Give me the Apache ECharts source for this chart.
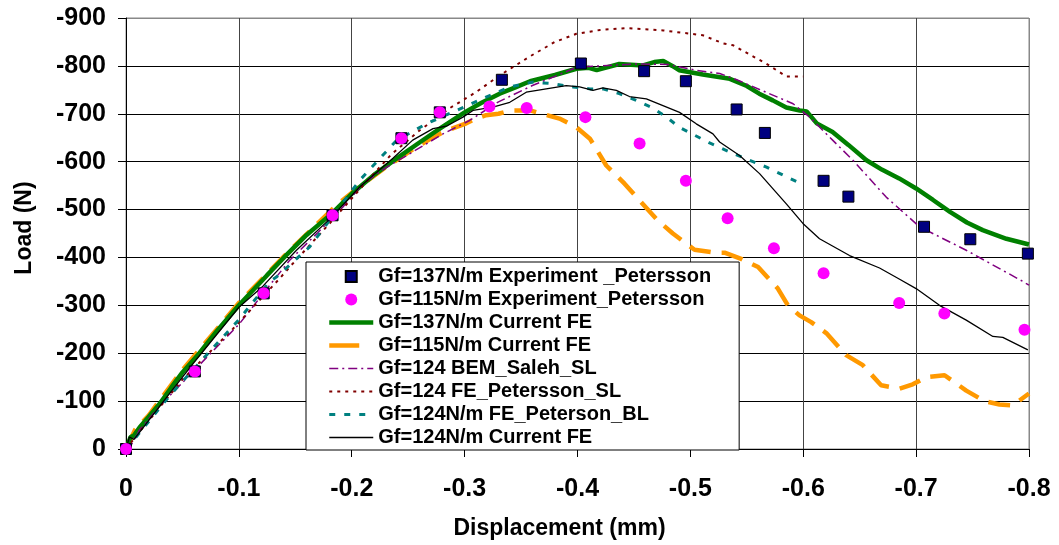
<!DOCTYPE html>
<html>
<head>
<meta charset="utf-8">
<script src="https://cdn.jsdelivr.net/npm/echarts@6/dist/echarts.min.js"></script>
<style>
html,body{margin:0;padding:0;background:#fff;}
#chart{width:1059px;height:545px;}
</style>
</head>
<body>
<div id="chart"></div>
<script>
// ---- axis ranges ----
const xRange = { min: -0.8, max: 0, step: 0.1 };
const yRange = { min: -900, max: 0, step: 100 };

// ---- series names ----
const names = [
  'Gf=137N/m Experiment _Petersson',
  'Gf=115N/m Experiment_Petersson',
  'Gf=137N/m Current FE',
  'Gf=115N/m Current FE',
  'Gf=124 BEM_Saleh_SL',
  'Gf=124 FE_Petersson_SL',
  'Gf=124N/m FE_Peterson_BL',
  'Gf=124N/m Current FE'
];

// ---- data: [displacement (mm), load (N)] ----
const exp137 = [[0,0],[-0.061,-162],[-0.122,-325],[-0.183,-488],[-0.244,-649],[-0.278,-703],[-0.333,-771],[-0.403,-805],[-0.459,-789],[-0.496,-768],[-0.541,-709],[-0.566,-660],[-0.618,-560],[-0.640,-527],[-0.707,-464],[-0.748,-438],[-0.799,-408]];

const exp115 = [[0,0],[-0.061,-162],[-0.122,-325],[-0.183,-488],[-0.244,-649],[-0.278,-703],[-0.322,-715],[-0.355,-712],[-0.407,-693],[-0.455,-638],[-0.496,-560],[-0.533,-482],[-0.574,-419],[-0.618,-367],[-0.685,-305],[-0.725,-283],[-0.796,-249]];

const fe137 = [[0,0],[-0.002,-12],[-0.004,-25],[-0.007,-28],[-0.012,-45],[-0.02,-67],[-0.03,-95],[-0.04,-128],[-0.05,-160],[-0.065,-200],[-0.08,-245],[-0.1,-300],[-0.125,-363],[-0.14,-400],[-0.16,-447],[-0.183,-493],[-0.2,-533],[-0.22,-573],[-0.243,-612],[-0.26,-640],[-0.278,-669],[-0.3,-703],[-0.315,-723],[-0.331,-742],[-0.345,-755],[-0.358,-768],[-0.38,-781],[-0.399,-794],[-0.41,-796],[-0.417,-791],[-0.437,-804],[-0.458,-801],[-0.468,-808],[-0.476,-810],[-0.484,-800],[-0.49,-791],[-0.511,-782],[-0.535,-773],[-0.55,-758],[-0.561,-742],[-0.573,-728],[-0.585,-713],[-0.597,-707],[-0.603,-705],[-0.612,-680],[-0.626,-662],[-0.64,-635],[-0.656,-603],[-0.67,-583],[-0.685,-565],[-0.7,-544],[-0.715,-520],[-0.73,-495],[-0.745,-473],[-0.759,-457],[-0.78,-439],[-0.8,-427]];

const fe115 = [[0,0],[-0.003,-15],[-0.008,-40],[-0.02,-70],[-0.05,-165],[-0.1,-305],[-0.121,-356],[-0.1435,-411],[-0.165,-460],[-0.186,-508],[-0.207,-548],[-0.228,-585],[-0.257,-630],[-0.27,-648],[-0.278,-658],[-0.29,-670],[-0.3015,-680],[-0.31,-690],[-0.319,-697],[-0.33,-700],[-0.341,-707],[-0.358,-707],[-0.384,-690],[-0.399,-672],[-0.411,-648],[-0.4255,-592],[-0.4417,-554],[-0.455,-519],[-0.4712,-477],[-0.4845,-450],[-0.5037,-416],[-0.5214,-410],[-0.5303,-410],[-0.545,-397],[-0.56,-380],[-0.5775,-335],[-0.5864,-300],[-0.5967,-279],[-0.607,-265],[-0.6204,-242],[-0.638,-196],[-0.6528,-175],[-0.669,-133],[-0.6852,-126],[-0.697,-135],[-0.709,-150],[-0.7252,-154],[-0.7444,-122],[-0.7606,-100],[-0.7739,-93],[-0.7857,-91],[-0.8,-116]];

const bemSaleh = [[0,0],[-0.005,-10],[-0.012,-40],[-0.03,-90],[-0.0535,-147],[-0.075,-200],[-0.095,-248],[-0.1007,-262],[-0.125,-335],[-0.145,-394],[-0.17,-452],[-0.192,-505],[-0.21,-554],[-0.23,-587],[-0.2516,-617],[-0.2808,-658],[-0.3044,-686],[-0.33,-725],[-0.36,-759],[-0.38,-778],[-0.399,-797],[-0.42,-800],[-0.45,-804],[-0.48,-803],[-0.505,-791],[-0.526,-784],[-0.54,-772],[-0.567,-745],[-0.591,-721],[-0.6056,-693],[-0.626,-645],[-0.644,-603],[-0.6735,-526],[-0.703,-464],[-0.7444,-415],[-0.7945,-350],[-0.8,-342]];

const fePeterssonSL = [[0,0],[-0.01,-30],[-0.05,-145],[-0.0948,-251],[-0.1361,-356],[-0.145,-380],[-0.18,-470],[-0.21,-550],[-0.235,-615],[-0.26,-665],[-0.287,-712],[-0.31,-745],[-0.331,-780],[-0.358,-820],[-0.38,-850],[-0.399,-867],[-0.42,-875],[-0.443,-879],[-0.476,-874],[-0.511,-864],[-0.529,-847],[-0.538,-843],[-0.553,-823],[-0.567,-805],[-0.585,-778],[-0.6,-778]];

const fePetersonBL = [[0,0],[-0.01,-28],[-0.04,-115],[-0.0712,-196],[-0.1,-270],[-0.1273,-350],[-0.1332,-359],[-0.1627,-422],[-0.1716,-450],[-0.207,-561],[-0.2395,-644],[-0.266,-679],[-0.29,-704],[-0.319,-735],[-0.34,-756],[-0.36,-766],[-0.378,-763],[-0.396,-756],[-0.411,-752],[-0.4225,-752],[-0.437,-742],[-0.452,-728],[-0.466,-713],[-0.479,-693],[-0.49,-672],[-0.504,-655],[-0.517,-639],[-0.538,-617],[-0.567,-589],[-0.598,-554]];

const fe124 = [[0,0],[-0.003,-25],[-0.007,-20],[-0.012,-35],[-0.0387,-116],[-0.0593,-178],[-0.1,-296],[-0.1213,-340],[-0.151,-415],[-0.1804,-480],[-0.207,-547],[-0.2365,-607],[-0.254,-645],[-0.272,-669],[-0.2838,-674],[-0.2985,-693],[-0.3074,-707],[-0.325,-714],[-0.34,-724],[-0.3546,-745],[-0.3723,-752],[-0.39,-759],[-0.4019,-756],[-0.4137,-749],[-0.4225,-754],[-0.4344,-749],[-0.446,-736],[-0.461,-731],[-0.4757,-717],[-0.4904,-703],[-0.5052,-679],[-0.52,-658],[-0.5259,-641],[-0.5436,-613],[-0.5613,-575],[-0.585,-512],[-0.5997,-471],[-0.6144,-439],[-0.641,-404],[-0.6676,-378],[-0.685,-355],[-0.7,-335],[-0.7207,-300],[-0.7444,-269],[-0.768,-235],[-0.7768,-233],[-0.799,-207]];

const FONT = "'Liberation Sans', Arial, sans-serif";

function fmtX(v){ return Math.abs(v) < 1e-9 ? '0' : String(Math.round(v*10)/10); }
function fmtY(v){ return Math.abs(v) < 1e-9 ? '0' : String(Math.round(v)); }

const hColors = ['#888'].concat(Array(9).fill('#000'));
const vColors = ['#888'].concat(Array(8).fill('#444'));

// line styles per series (index 2..7)
const styles = [
  null, null,
  {color:'#008000', width:4.5, type:'solid', legendType:'solid'},
  {color:'#FF9900', width:4.5, type:[22,11], legendType:[30,14]},
  {color:'#800080', width:1.5, type:[9,4,2,4], legendType:[9,4,2,4]},
  {color:'#800000', width:2, type:[3,5], legendType:[3,5]},
  {color:'#008080', width:3, type:[6,9], legendType:[6,9]},
  {color:'#000000', width:1.3, type:'solid', legendType:'solid'}
];

// legend icons: centred square inside the 44x12 legend slot; line items hide the marker
const squareIcon = 'path://M0,0M44,12M16.5,0.5H27.5V11.5H16.5Z';
const legendData = names.map((n, i) => {
  if (i === 0) return {name:n, icon:squareIcon};
  if (i === 1) return {name:n, icon:'circle'};
  const s = styles[i];
  return {name:n, itemStyle:{opacity:0}, lineStyle:{width:s.width, type:s.legendType, color:s.color}};
});

const chart = echarts.init(document.getElementById('chart'), null, {renderer:'canvas'});

function lineSeries(i, data, z){
  const s = styles[i];
  return {
    name:names[i], type:'line', data, showSymbol:false, symbol:'none', smooth:false,
    lineStyle:{color:s.color, width:s.width, type:s.type}, itemStyle:{color:s.color}, z, animation:false,
    emphasis:{disabled:true}
  };
}

chart.setOption({
  animation:false,
  backgroundColor:'#fff',
  grid:{left:126, right:30, top:18, bottom:96, show:true, borderColor:'#888', borderWidth:1, containLabel:false},
  xAxis:{
    type:'value', min:xRange.min, max:xRange.max, interval:xRange.step, inverse:true,
    name:'Displacement (mm)', nameLocation:'middle', nameGap:68,
    nameTextStyle:{fontFamily:FONT, fontWeight:'bold', fontSize:23, color:'#000', padding:[0,36,0,0]},
    axisLine:{show:true, onZero:false, lineStyle:{color:'#000', width:1}},
    axisTick:{show:true, inside:false, length:8, lineStyle:{color:'#000'}},
    axisLabel:{formatter:fmtX, margin:28, fontFamily:FONT, fontWeight:'bold', fontSize:25, color:'#000'},
    splitLine:{show:true, lineStyle:{color:vColors, width:1}}
  },
  yAxis:{
    type:'value', min:yRange.min, max:yRange.max, interval:yRange.step, inverse:true,
    name:'Load (N)', nameLocation:'middle', nameGap:90, nameRotate:90,
    nameTextStyle:{fontFamily:FONT, fontWeight:'bold', fontSize:23, color:'#000', padding:[0,0,0,11]},
    axisLine:{show:true, onZero:false, lineStyle:{color:'#000', width:1}},
    axisTick:{show:true, inside:false, length:8, lineStyle:{color:'#000'}},
    axisLabel:{formatter:fmtY, margin:20, fontFamily:FONT, fontWeight:'bold', fontSize:25, color:'#000'},
    splitLine:{show:true, lineStyle:{color:hColors, width:1}}
  },
  legend:{
    show:true, orient:'vertical', left:306, top:262,
    data:legendData, selectedMode:false,
    itemWidth:44, itemHeight:12, itemGap:0,
    padding:[3,28,1,21],
    backgroundColor:'#fff', borderColor:'#000', borderWidth:1,
    textStyle:{fontFamily:FONT, fontWeight:'bold', fontSize:20, color:'#000', lineHeight:23}
  },
  series:[
    {name:names[0], type:'scatter', data:exp137, symbol:'rect', symbolSize:11, clip:false,
     itemStyle:{color:'#000080', borderColor:'#000', borderWidth:1, opacity:1}, z:6, emphasis:{disabled:true}},
    {name:names[1], type:'scatter', data:exp115, symbol:'circle', symbolSize:12, clip:false,
     itemStyle:{color:'#FF00FF', opacity:1}, z:7, emphasis:{disabled:true}},
    lineSeries(2, fe137, 3),
    lineSeries(3, fe115, 2),
    lineSeries(4, bemSaleh, 4),
    lineSeries(5, fePeterssonSL, 4),
    lineSeries(6, fePetersonBL, 4),
    lineSeries(7, fe124, 4)
  ]
});
</script>
</body>
</html>
